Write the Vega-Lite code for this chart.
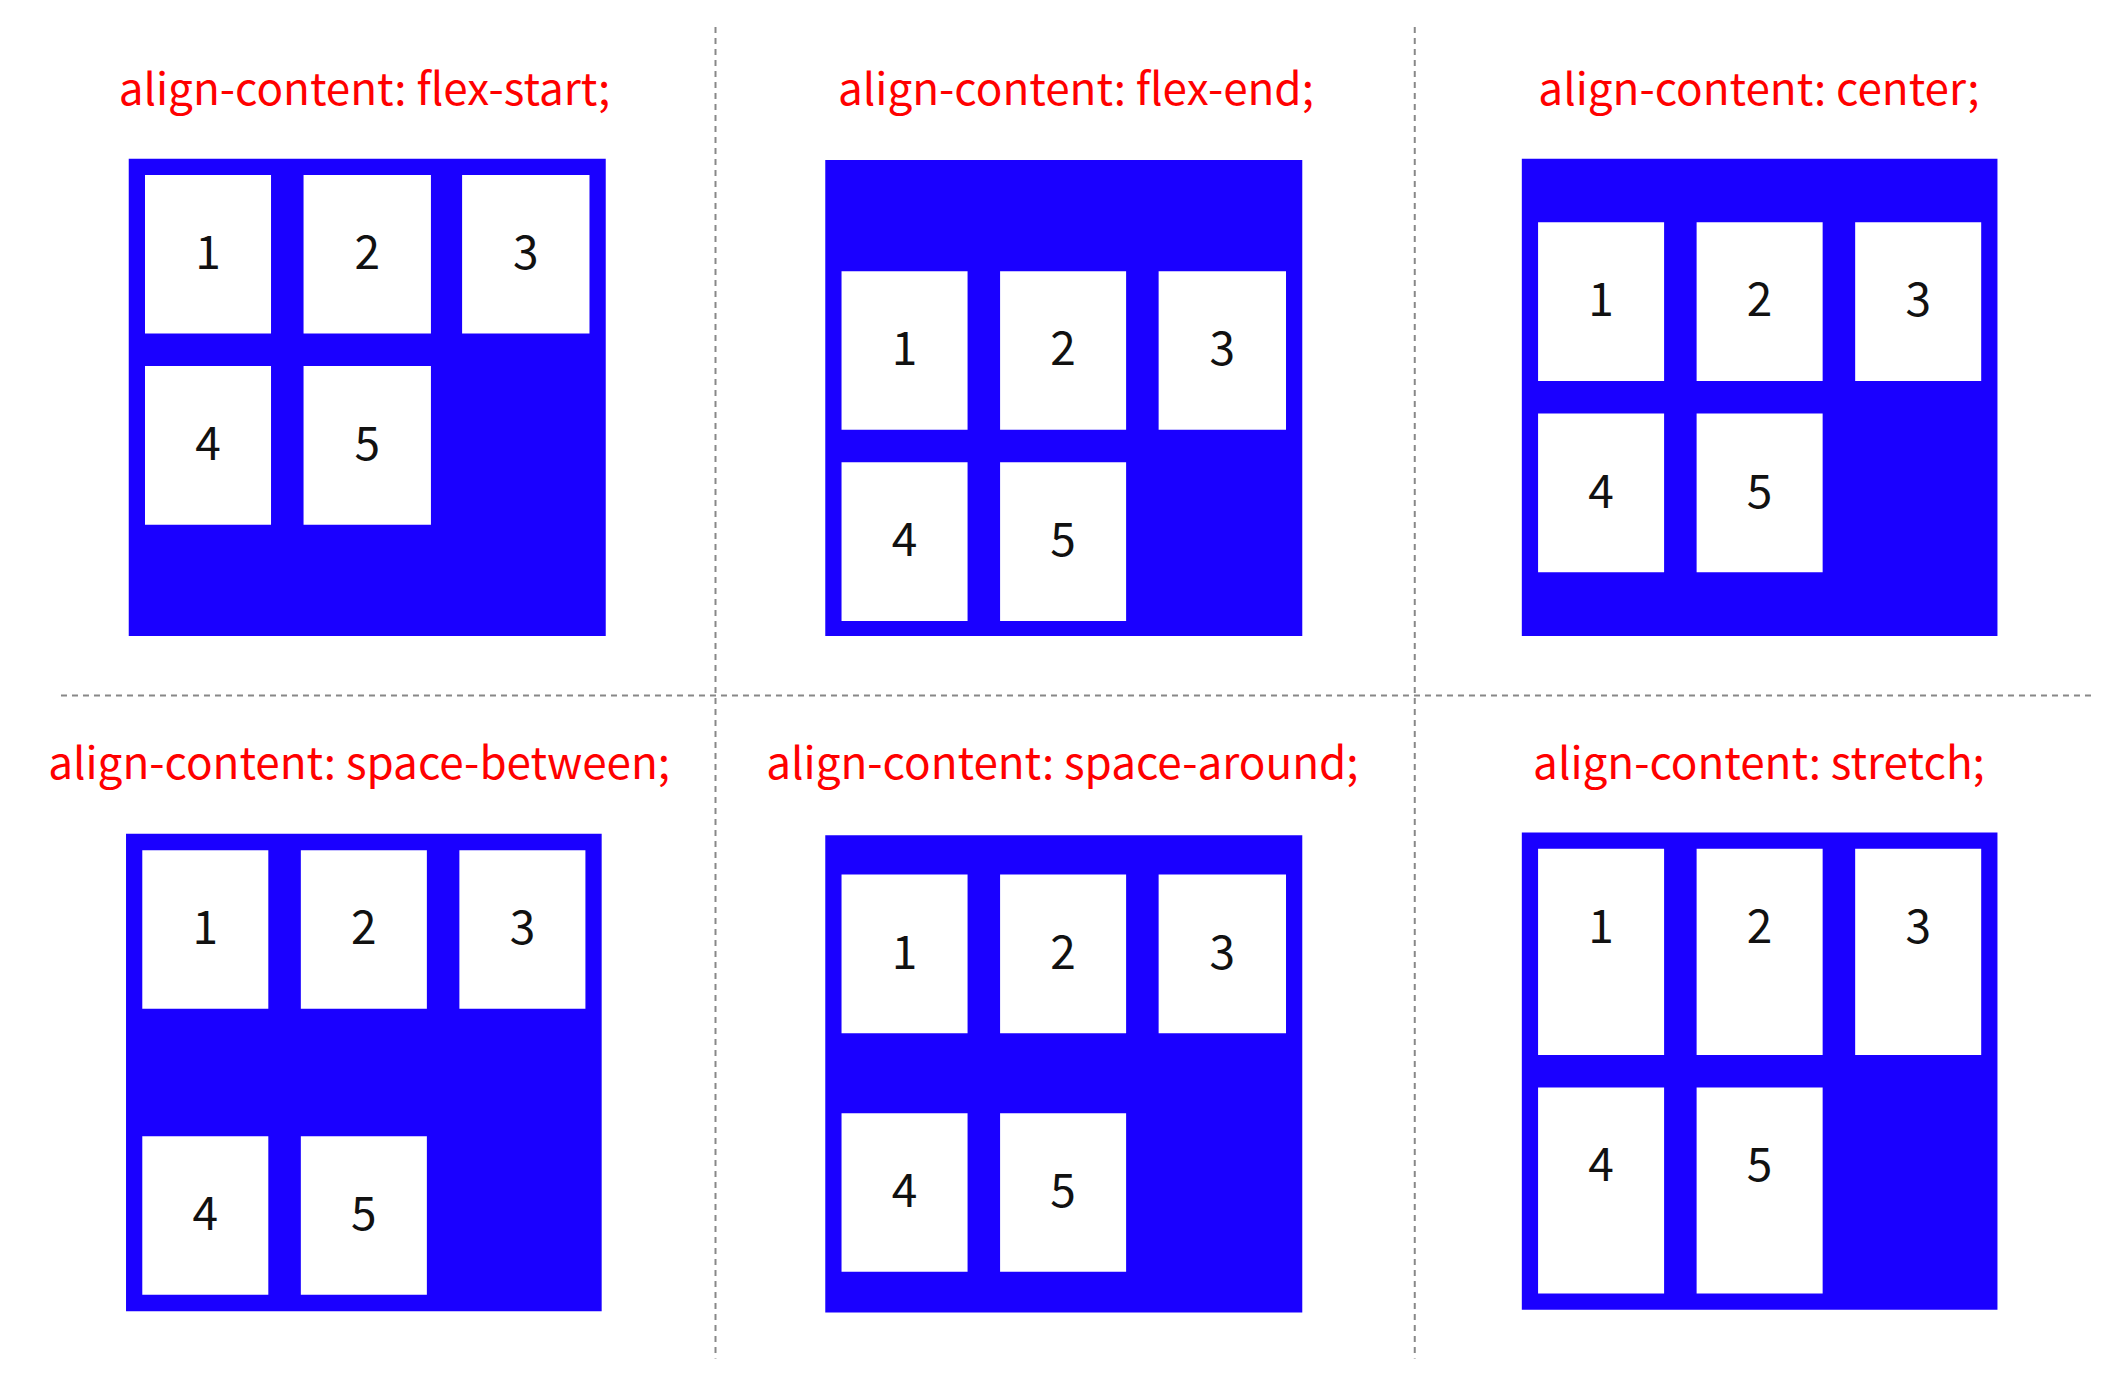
{
"$schema":"https://vega.github.io/schema/vega-lite/v6.json",
"width":2114,"height":1383,
"autosize":{"type":"fit","contains":"padding"},
"padding":0,
"background":"white",
"config":{"view":{"stroke":null}},
"datasets":{
"boxes":[
{"x":95,"x2":447,"y":117,"y2":469},
{"x":609,"x2":961,"y":118,"y2":469},
{"x":1123,"x2":1474,"y":117,"y2":469},
{"x":93,"x2":444,"y":615,"y2":967},
{"x":609,"x2":961,"y":616,"y2":968},
{"x":1123,"x2":1474,"y":614,"y2":966}
],
"items":[
{"x":107,"x2":200,"y":129,"y2":246,"n":"1","ly":188},
{"x":224,"x2":318,"y":129,"y2":246,"n":"2","ly":188},
{"x":341,"x2":435,"y":129,"y2":246,"n":"3","ly":188},
{"x":107,"x2":200,"y":270,"y2":387,"n":"4","ly":329},
{"x":224,"x2":318,"y":270,"y2":387,"n":"5","ly":329},
{"x":621,"x2":714,"y":200,"y2":317,"n":"1","ly":259},
{"x":738,"x2":831,"y":200,"y2":317,"n":"2","ly":259},
{"x":855,"x2":949,"y":200,"y2":317,"n":"3","ly":259},
{"x":621,"x2":714,"y":341,"y2":458,"n":"4","ly":400},
{"x":738,"x2":831,"y":341,"y2":458,"n":"5","ly":400},
{"x":1135,"x2":1228,"y":164,"y2":281,"n":"1","ly":223},
{"x":1252,"x2":1345,"y":164,"y2":281,"n":"2","ly":223},
{"x":1369,"x2":1462,"y":164,"y2":281,"n":"3","ly":223},
{"x":1135,"x2":1228,"y":305,"y2":422,"n":"4","ly":364},
{"x":1252,"x2":1345,"y":305,"y2":422,"n":"5","ly":364},
{"x":105,"x2":198,"y":627,"y2":744,"n":"1","ly":686},
{"x":222,"x2":315,"y":627,"y2":744,"n":"2","ly":686},
{"x":339,"x2":432,"y":627,"y2":744,"n":"3","ly":686},
{"x":105,"x2":198,"y":838,"y2":955,"n":"4","ly":897},
{"x":222,"x2":315,"y":838,"y2":955,"n":"5","ly":897},
{"x":621,"x2":714,"y":645,"y2":762,"n":"1","ly":704},
{"x":738,"x2":831,"y":645,"y2":762,"n":"2","ly":704},
{"x":855,"x2":949,"y":645,"y2":762,"n":"3","ly":704},
{"x":621,"x2":714,"y":821,"y2":938,"n":"4","ly":880},
{"x":738,"x2":831,"y":821,"y2":938,"n":"5","ly":880},
{"x":1135,"x2":1228,"y":626,"y2":778,"n":"1","ly":685},
{"x":1252,"x2":1345,"y":626,"y2":778,"n":"2","ly":685},
{"x":1369,"x2":1462,"y":626,"y2":778,"n":"3","ly":685},
{"x":1135,"x2":1228,"y":802,"y2":954,"n":"4","ly":861},
{"x":1252,"x2":1345,"y":802,"y2":954,"n":"5","ly":861}
],
"titles":[
{"x":269,"y":68,"t":"align-content: flex-start;"},
{"x":794,"y":68,"t":"align-content: flex-end;"},
{"x":1298,"y":68,"t":"align-content: center;"},
{"x":265,"y":565,"t":"align-content: space-between;"},
{"x":784,"y":565,"t":"align-content: space-around;"},
{"x":1298,"y":565,"t":"align-content: stretch;"}
],
"lines":[
{"x":528,"x2":528,"y":20,"y2":1002},
{"x":1044,"x2":1044,"y":20,"y2":1002},
{"x":45,"x2":1545,"y":513,"y2":513}
]
},
"layer":[
{"data":{"name":"lines"},"mark":{"type":"rule","color":"#888888","strokeDash":[6,5],"strokeWidth":2},
"encoding":{"x":{"field":"x","type":"quantitative","scale":{"domain":[0,1560],"nice":false,"zero":false},"axis":null},"x2":{"field":"x2"},
"y":{"field":"y","type":"quantitative","scale":{"domain":[0,1020],"nice":false,"zero":false,"reverse":true},"axis":null},"y2":{"field":"y2"}}},
{"data":{"name":"boxes"},"mark":{"type":"rect","color":"#1a00ff"},
"encoding":{"x":{"field":"x","type":"quantitative"},"x2":{"field":"x2"},"y":{"field":"y","type":"quantitative"},"y2":{"field":"y2"}}},
{"data":{"name":"items"},"mark":{"type":"rect","color":"#ffffff"},
"encoding":{"x":{"field":"x","type":"quantitative"},"x2":{"field":"x2"},"y":{"field":"y","type":"quantitative"},"y2":{"field":"y2"}}},
{"data":{"name":"items"},"transform":[{"calculate":"(datum.x+datum.x2)/2","as":"cx"}],"mark":{"type":"text","fontSize":46,"font":"Noto Sans CJK JP","color":"#111111","baseline":"middle","align":"center"},
"encoding":{"x":{"field":"cx","type":"quantitative"},"y":{"field":"ly","type":"quantitative"},"text":{"field":"n"}}},
{"data":{"name":"titles"},"mark":{"type":"text","fontSize":44,"font":"Noto Sans CJK JP","color":"#ff0000","baseline":"middle","align":"center"},
"encoding":{"x":{"field":"x","type":"quantitative"},"y":{"field":"y","type":"quantitative"},"text":{"field":"t"}}}
]
}
